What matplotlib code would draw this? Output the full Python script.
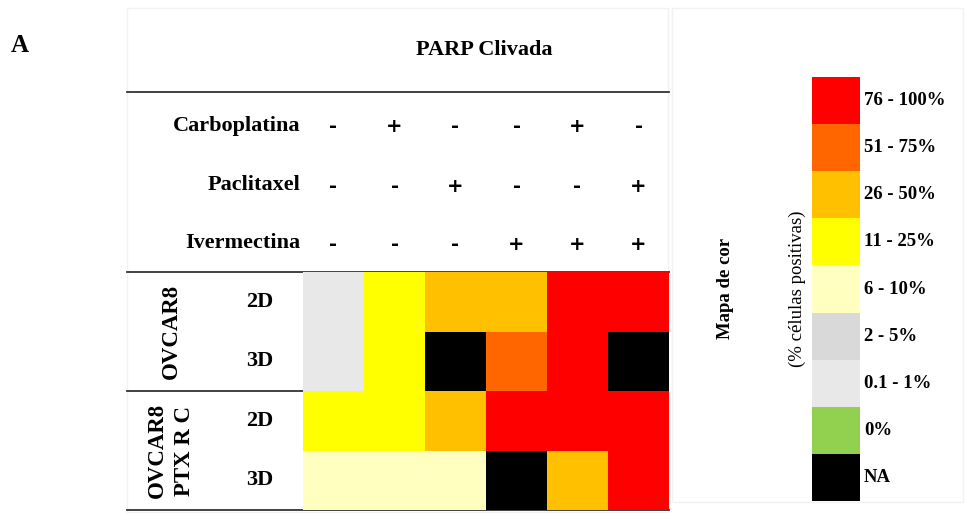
import numpy as np
import matplotlib
matplotlib.use("Agg")
import matplotlib.pyplot as plt
from matplotlib.colors import ListedColormap, BoundaryNorm

plt.rcParams["font.family"] = ["Liberation Serif", "DejaVu Serif"]
plt.rcParams["font.weight"] = "bold"

# legend categories, bottom to top
levels = ["NA", "0%", "0.1 - 1%", "2 - 5%", "6 - 10%", "11 - 25%", "26 - 50%", "51 - 75%", "76 - 100%"]
level_colors = ["#000000", "#92D050", "#E8E8E8", "#D9D9D9", "#FFFFC0", "#FFFF00", "#FFC000", "#FF6600", "#FF0000"]

treatments = ["Carboplatina", "Paclitaxel", "Ivermectina"]
signs = [["-", "+", "-", "-", "+", "-"],
         ["-", "-", "+", "-", "-", "+"],
         ["-", "-", "-", "+", "+", "+"]]

groups = ["OVCAR8", "OVCAR8\nPTX R C"]
cultures = ["2D", "3D", "2D", "3D"]
# cells, top to bottom
cells = [["0.1 - 1%", "11 - 25%", "26 - 50%", "26 - 50%", "76 - 100%", "76 - 100%"],
         ["0.1 - 1%", "11 - 25%", "NA", "51 - 75%", "76 - 100%", "NA"],
         ["11 - 25%", "11 - 25%", "26 - 50%", "76 - 100%", "76 - 100%", "76 - 100%"],
         ["6 - 10%", "6 - 10%", "6 - 10%", "NA", "26 - 50%", "76 - 100%"]]

W, H = 965, 513
fig = plt.figure(figsize=(W / 100, H / 100), dpi=100)

cmap = ListedColormap(level_colors)
norm = BoundaryNorm(np.arange(len(levels) + 1) - 0.5, cmap.N)

def px_axes(x0, y0, x1, y1):
    return fig.add_axes([x0 / W, 1 - y1 / H, (x1 - x0) / W, (y1 - y0) / H])

# overlay in pixel coords for lines / text
ov = px_axes(0, 0, W, H)
ov.set_xlim(0, W)
ov.set_ylim(H, 0)
ov.axis("off")

hx0, hx1, hy0, hy1 = 303, 669, 272, 510
ax = px_axes(hx0, hy0, hx1, hy1)
idx = np.array([[levels.index(c) for c in row] for row in cells])
ax.pcolormesh(idx, cmap=cmap, norm=norm)
ax.set_ylim(len(cells), 0)
ax.axis("off")

ncol = len(signs[0])
colw = (hx1 - hx0) / ncol
rowh = (hy1 - hy0) / len(cells)

# faint panel frames
for (a, b, c, d) in [(127, 8, 668, 512), (672, 8, 963, 502)]:
    ov.plot([a, c, c, a, a], [b, b, d, d, b], color="#f2f2f2", lw=1)

ov.text(11, 45, "A", fontsize=18, va="center", ha="left")
ov.text(484, 50, "PARP Clivada", fontsize=16, va="center", ha="center")

for y in (92, 272, 510):
    ov.plot([127, hx1], [y, y], color="#333333", lw=1.3)
ov.plot([127, hx0], [391, 391], color="#333333", lw=1.3)

ty = [126, 185, 243]
for i, t in enumerate(treatments):
    ov.text(300, ty[i], t, fontsize=16, ha="right", va="center")
    for j, s in enumerate(signs[i]):
        ov.text(hx0 + colw * (j + 0.5), ty[i] + 1, s, fontsize=14, ha="center", va="center",
                family="DejaVu Sans")

for r, c in enumerate(cultures):
    ov.text(260, hy0 + rowh * (r + 0.5), c, fontsize=16, ha="center", va="center")
for g, name in enumerate(groups):
    ov.text(171, hy0 + rowh * (2 * g + 1), name, fontsize=16.5, rotation=90,
            ha="center", va="center", linespacing=1.35)

# colour legend
lx0, lx1, ly0, ly1 = 812, 860, 77, 501
lax = px_axes(lx0, ly0, lx1, ly1)
lax.pcolormesh(np.arange(len(levels)).reshape(-1, 1), cmap=cmap, norm=norm)
lax.set_xlim(0, 1)
lax.set_ylim(0, len(levels))
lax.axis("off")
for k, lab in enumerate(levels):
    lax.text(1.08, k + 0.5, lab, fontsize=13.5, ha="left", va="center",
             transform=lax.transData, clip_on=False)

ov.text(726, 288, "Mapa de cor", fontsize=13.5, rotation=90, ha="center", va="center")
ov.text(797, 289, "(% células positivas)", fontsize=13.5, rotation=90, ha="center",
        va="center", fontweight="normal")

fig.savefig("out.png", dpi=100)
